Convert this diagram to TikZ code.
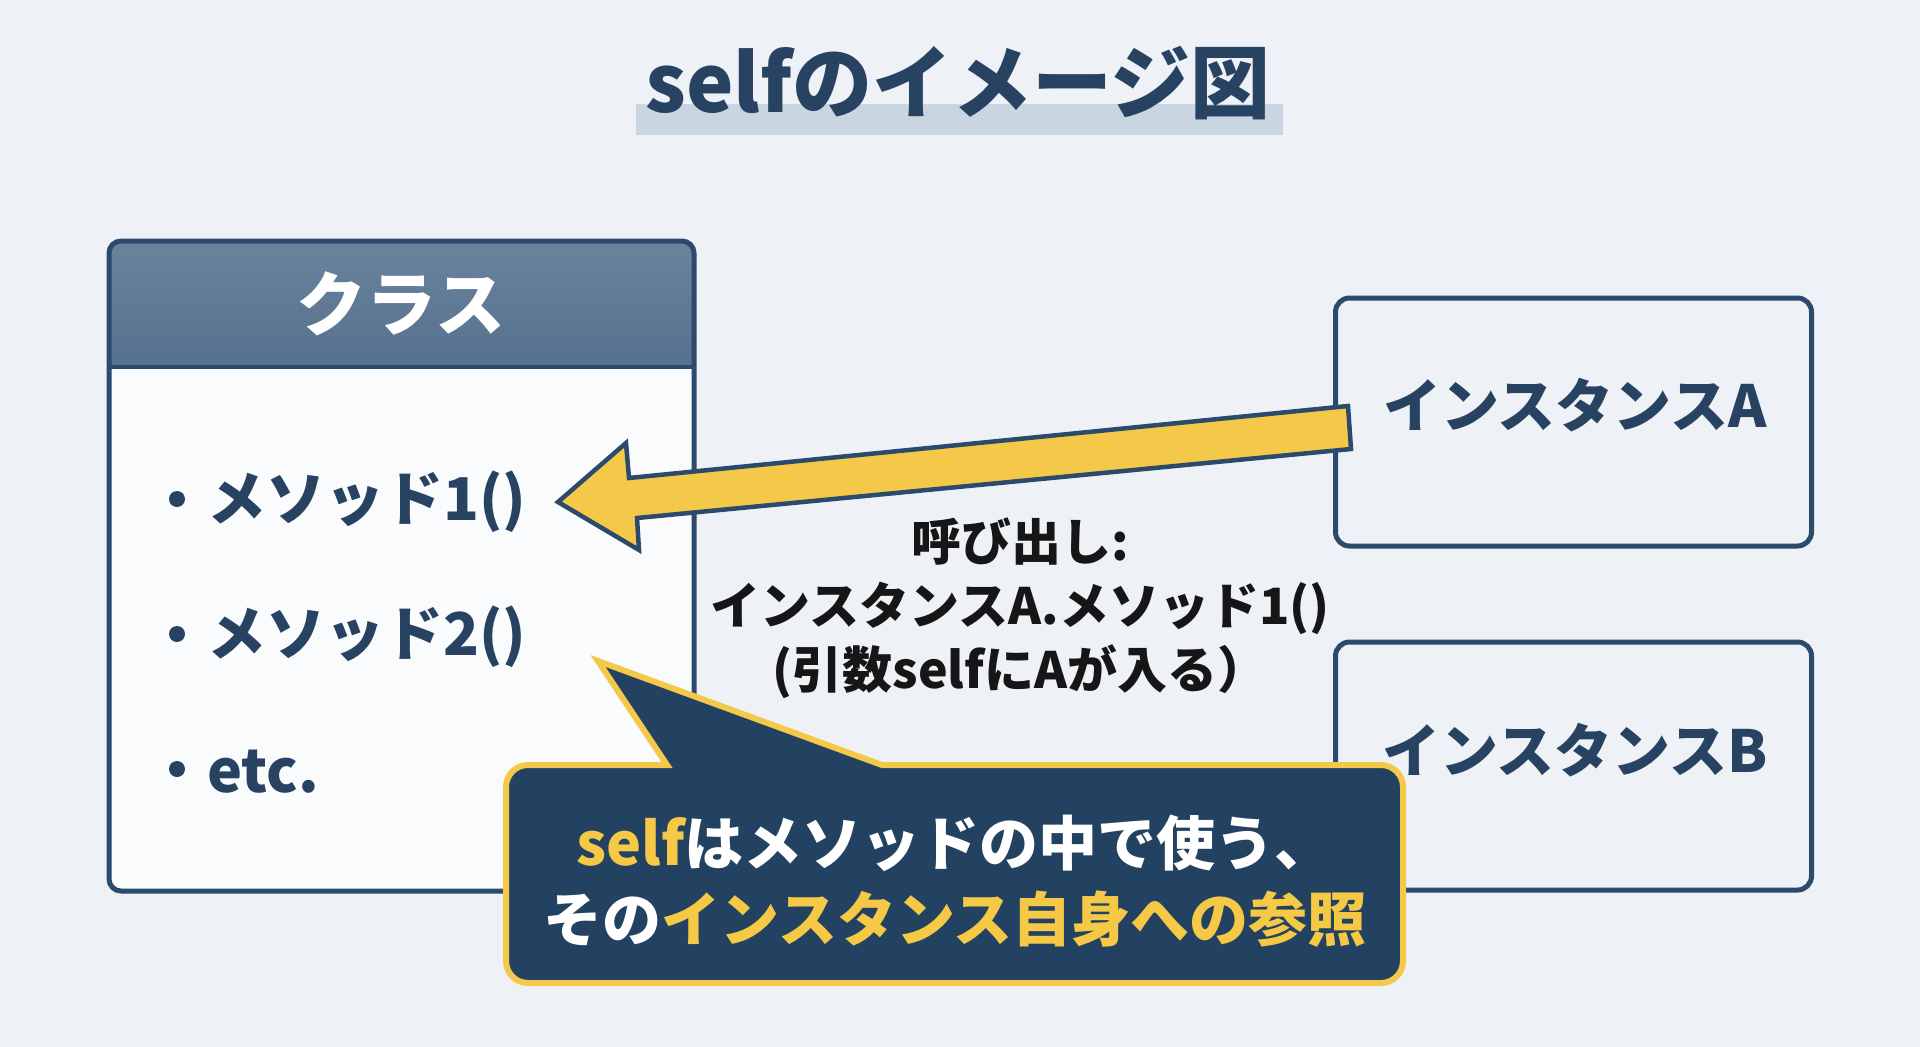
\documentclass[tikz,border=0pt]{standalone}
\usepackage{fontspec}
\setmainfont{Noto Sans CJK JP}
\usetikzlibrary{calc}
\definecolor{bg}{HTML}{EEF2F7}
\definecolor{navy}{HTML}{2C4A6B}
\definecolor{tnavy}{HTML}{284362}
\definecolor{hdrtop}{HTML}{6A839D}
\definecolor{hdrbot}{HTML}{56718E}
\definecolor{bodyw}{HTML}{FAFBFC}
\definecolor{yel}{HTML}{F4C94A}
\definecolor{ytext}{HTML}{F5C845}
\definecolor{callfill}{HTML}{234262}
\definecolor{barcol}{HTML}{C9D6E2}
\definecolor{ink}{HTML}{161616}
\tikzset{
  txt/.style={inner sep=0pt, font=\bfseries},
  itemtxt/.style={txt, anchor=west, text=tnavy, font=\fontsize{59}{70}\selectfont\bfseries},
  bulletdot/.style={circle, fill=tnavy, minimum size=16pt, inner sep=0pt},
  instbox/.style={draw=navy, line width=5pt, rounded corners=14pt, fill=bg, minimum width=476pt, minimum height=248pt, inner sep=0pt},
  insttxt/.style={txt, text=tnavy, font=\fontsize{58}{68}\selectfont\bfseries},
}
\begin{document}
\begin{tikzpicture}[x=1pt,y=-1pt]
\useasboundingbox (0,0) rectangle (1920,1047);
\fill[bg] (0,0) rectangle (1920,1047);

% title
\fill[barcol] (636,104) rectangle (1283,135);
\node[txt, text=tnavy, font=\fontsize{80}{92}\selectfont\bfseries] (title) at (958,83) {selfのイメージ図};

% class box
\node[fill=bodyw, rounded corners=12pt, minimum width=585pt, minimum height=650pt, inner sep=0pt] (cls) at (401.5,566) {};
\begin{scope}
  \clip[rounded corners=12pt] (109,241) rectangle (694,891);
  \fill[top color=hdrtop, bottom color=hdrbot] (109,241) rectangle (694,367);
\end{scope}
\draw[navy, line width=4pt] (109,367) -- (694,367);
\draw[navy, line width=5pt, rounded corners=12pt] (109,241) rectangle (694,891);
\node[txt, text=white, font=\fontsize{70}{80}\selectfont\bfseries] (clsname) at (401,304) {クラス};

\node[bulletdot] (b1) at (177,499) {};
\node[itemtxt] (m1) at (207,502) {メソッド1()};
\node[bulletdot] (b2) at (177,634) {};
\node[itemtxt] (m2) at (207,637) {メソッド2()};
\node[bulletdot] (b3) at (177,769) {};
\node[itemtxt] (m3) at (207,772) {etc.};

% instance boxes
\node[instbox] (ia) at (1573.5,422) {};
\node[insttxt] (ialbl) at (1575,405) {インスタンスA};
\node[instbox] (ib) at (1573.5,766) {};
\node[insttxt] (iblbl) at (1575,750) {インスタンスB};

% arrow from instance A to method 1
\coordinate (tailT) at (1348,406);
\coordinate (tailB) at (1351,449);
\coordinate (neckB) at (637,518);
\coordinate (barbB) at (639,550);
\coordinate (tip) at (558,502);
\coordinate (barbT) at (626,443);
\coordinate (neckT) at (629,478);
\draw[fill=yel, draw=navy, line width=4.5pt, line join=miter]
  (tailT) -- (tailB) -- (neckB) -- (barbB) -- (tip) -- (barbT) -- (neckT) -- cycle;

% call text
\node[txt, text=ink, align=center, font=\fontsize{50}{64}\selectfont\bfseries] (call) at (1020,608)
  {呼び出し:\\インスタンスA.メソッド1()\\(引数selfにAが入る）};

% callout
\draw[fill=callfill, draw=yel, line width=6pt]
  (506,870) [rounded corners=22pt] -- (506,765) [sharp corners] -- (667,765) -- (598,661) -- (882,765)
  [rounded corners=22pt] -- (1403,765) -- (1403,983) -- (506,983) -- cycle;
\node[txt, text=white, align=center, font=\fontsize{59}{76}\selectfont\bfseries] (note) at (955,881)
  {{\color{ytext}self}はメソッドの中で使う、\\その{\color{ytext}インスタンス自身への参照}};
\end{tikzpicture}
\end{document}
